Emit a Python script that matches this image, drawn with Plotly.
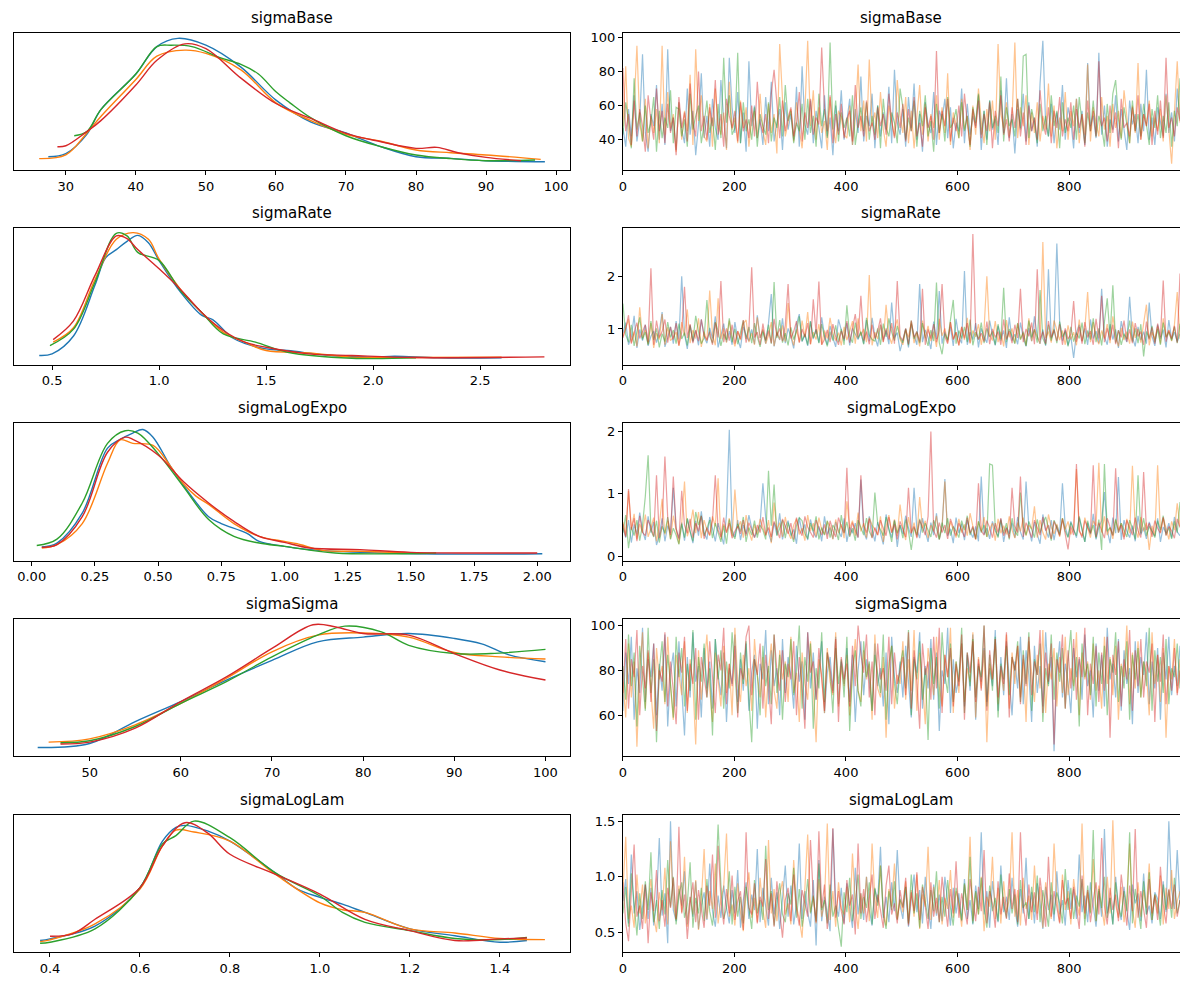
import numpy as np
import plotly.graph_objects as go

# Parámetros (orden de filas) y colores de cadena
params = ['sigmaBase', 'sigmaRate', 'sigmaLogExpo', 'sigmaSigma', 'sigmaLogLam']
chain_colors = ['#1f77b4', '#ff7f0e', '#2ca02c', '#d62728']

# --- KDE por cadena (x, altura relativa en el panel) ---
base_kde_x0 = [27.5, 30, 33, 35, 40, 43, 46, 50, 55, 60, 65, 70, 75, 80, 85, 90, 98.4]
base_kde_y0 = [0.097, 0.12, 0.26, 0.44, 0.70, 0.90, 0.96, 0.91, 0.75, 0.51, 0.35, 0.27, 0.17, 0.097, 0.085, 0.068, 0.06]
base_kde_x1 = [26.2, 30, 33, 35, 40, 43, 47, 50, 55, 60, 65, 70, 75, 80, 85, 90, 97.8]
base_kde_y1 = [0.083, 0.11, 0.27, 0.39, 0.66, 0.83, 0.874, 0.85, 0.73, 0.49, 0.36, 0.26, 0.21, 0.146, 0.126, 0.11, 0.078]
base_kde_x2 = [31.2, 33, 35, 40, 43, 45, 48, 52, 55, 57.5, 60, 62, 65, 70, 75, 80, 85, 90, 97]
base_kde_y2 = [0.25, 0.28, 0.44, 0.70, 0.90, 0.91, 0.90, 0.82, 0.77, 0.70, 0.57, 0.49, 0.38, 0.25, 0.17, 0.11, 0.083, 0.068, 0.073]
base_kde_x3 = [28.8, 30, 33, 35, 40, 43, 47, 50, 55, 60, 65, 70, 75, 80, 83, 86, 90, 95]
base_kde_y3 = [0.17, 0.177, 0.28, 0.36, 0.62, 0.80, 0.92, 0.885, 0.67, 0.485, 0.376, 0.267, 0.206, 0.158, 0.165, 0.126, 0.092, 0.068]

rate_kde_x0 = [0.44, 0.5, 0.6, 0.7, 0.75, 0.8, 0.85, 0.9, 0.95, 1.0, 1.1, 1.2, 1.25, 1.35, 1.5, 1.6, 1.8, 2.0, 2.1, 2.3, 2.6]
rate_kde_y0 = [0.068, 0.08, 0.21, 0.58, 0.78, 0.84, 0.90, 0.944, 0.89, 0.76, 0.53, 0.36, 0.33, 0.19, 0.116, 0.104, 0.068, 0.056, 0.063, 0.051, 0.051]
rate_kde_x1 = [0.505, 0.6, 0.7, 0.8, 0.88, 0.95, 1.0, 1.1, 1.2, 1.3, 1.4, 1.5, 1.7, 1.9, 2.2, 2.6]
rate_kde_y1 = [0.165, 0.27, 0.62, 0.915, 0.964, 0.915, 0.77, 0.55, 0.38, 0.237, 0.165, 0.104, 0.087, 0.056, 0.053, 0.056]
rate_kde_x2 = [0.49, 0.6, 0.7, 0.8, 0.85, 0.9, 1.0, 1.1, 1.2, 1.3, 1.45, 1.6, 1.9, 2.2]
rate_kde_y2 = [0.14, 0.26, 0.60, 0.959, 0.94, 0.82, 0.76, 0.54, 0.38, 0.225, 0.165, 0.092, 0.048, 0.051]
rate_kde_x3 = [0.505, 0.6, 0.7, 0.8, 0.85, 0.9, 1.0, 1.1, 1.2, 1.3, 1.4, 1.5, 1.7, 1.9, 2.2, 2.8]
rate_kde_y3 = [0.184, 0.32, 0.65, 0.94, 0.92, 0.84, 0.70, 0.55, 0.38, 0.25, 0.165, 0.128, 0.08, 0.068, 0.053, 0.058]

expo_kde_x0 = [0.04, 0.1, 0.2, 0.3, 0.35, 0.4, 0.44, 0.48, 0.55, 0.6, 0.7, 0.75, 0.85, 0.9, 1.0, 1.1, 1.3, 1.6, 2.02]
expo_kde_y0 = [0.10, 0.128, 0.346, 0.82, 0.884, 0.93, 0.956, 0.90, 0.685, 0.55, 0.32, 0.27, 0.20, 0.14, 0.104, 0.08, 0.06, 0.048, 0.05]
expo_kde_x1 = [0.04, 0.1, 0.2, 0.3, 0.35, 0.4, 0.48, 0.55, 0.6, 0.65, 0.7, 0.8, 0.9, 1.0, 1.05, 1.15, 1.3, 1.5]
expo_kde_y1 = [0.092, 0.116, 0.27, 0.71, 0.88, 0.855, 0.84, 0.685, 0.56, 0.47, 0.41, 0.27, 0.177, 0.14, 0.123, 0.075, 0.068, 0.056]
expo_kde_x2 = [0.02, 0.1, 0.2, 0.3, 0.37, 0.42, 0.5, 0.6, 0.7, 0.8, 0.9, 1.0, 1.2, 1.6]
expo_kde_y2 = [0.11, 0.157, 0.42, 0.855, 0.947, 0.93, 0.78, 0.54, 0.30, 0.177, 0.128, 0.104, 0.056, 0.056]
expo_kde_x3 = [0.04, 0.1, 0.2, 0.3, 0.37, 0.4, 0.5, 0.6, 0.7, 0.8, 0.9, 1.0, 1.1, 1.3, 1.5, 2.0]
expo_kde_y3 = [0.097, 0.116, 0.32, 0.79, 0.90, 0.884, 0.77, 0.576, 0.42, 0.286, 0.177, 0.133, 0.092, 0.08, 0.06, 0.056]

sig_kde_x0 = [44.3, 50, 55, 60, 65, 70, 75, 80, 85, 90, 93, 96, 100]
sig_kde_y0 = [0.065, 0.094, 0.254, 0.40, 0.557, 0.70, 0.835, 0.87, 0.896, 0.86, 0.82, 0.74, 0.69]
sig_kde_x1 = [45.5, 50, 55, 60, 65, 70, 75, 80, 85, 90, 95, 100]
sig_kde_y1 = [0.104, 0.128, 0.23, 0.387, 0.57, 0.763, 0.884, 0.90, 0.87, 0.758, 0.726, 0.71]
sig_kde_x2 = [46.8, 50, 55, 60, 65, 70, 75, 78, 82, 85, 90, 94, 100]
sig_kde_y2 = [0.10, 0.114, 0.218, 0.387, 0.545, 0.726, 0.884, 0.95, 0.908, 0.81, 0.75, 0.75, 0.78]
sig_kde_x3 = [46.8, 50, 55, 60, 65, 70, 74.5, 77, 80, 85, 90, 95, 100]
sig_kde_y3 = [0.09, 0.104, 0.206, 0.40, 0.58, 0.787, 0.96, 0.944, 0.896, 0.884, 0.75, 0.63, 0.557]

lam_kde_x0 = [0.378, 0.4, 0.5, 0.6, 0.65, 0.68, 0.7, 0.75, 0.8, 0.9, 0.95, 1.0, 1.05, 1.1, 1.2, 1.3, 1.4, 1.46]
lam_kde_y0 = [0.085, 0.097, 0.19, 0.47, 0.81, 0.91, 0.925, 0.884, 0.81, 0.58, 0.46, 0.40, 0.35, 0.29, 0.17, 0.12, 0.073, 0.085]
lam_kde_x1 = [0.378, 0.4, 0.5, 0.6, 0.65, 0.68, 0.72, 0.8, 0.9, 1.0, 1.05, 1.1, 1.2, 1.3, 1.4, 1.5]
lam_kde_y1 = [0.077, 0.09, 0.206, 0.46, 0.775, 0.89, 0.876, 0.81, 0.57, 0.36, 0.31, 0.29, 0.17, 0.14, 0.10, 0.092]
lam_kde_x2 = [0.378, 0.4, 0.5, 0.6, 0.65, 0.68, 0.72, 0.8, 0.9, 1.0, 1.05, 1.1, 1.2, 1.3, 1.4, 1.46]
lam_kde_y2 = [0.065, 0.073, 0.17, 0.47, 0.79, 0.85, 0.956, 0.835, 0.58, 0.41, 0.29, 0.218, 0.157, 0.10, 0.092, 0.107]
lam_kde_x3 = [0.4, 0.45, 0.5, 0.6, 0.65, 0.7, 0.75, 0.8, 0.9, 1.0, 1.1, 1.2, 1.3, 1.4, 1.46]
lam_kde_y3 = [0.116, 0.133, 0.24, 0.47, 0.775, 0.944, 0.87, 0.714, 0.57, 0.424, 0.24, 0.157, 0.085, 0.097, 0.104]

# --- Trazas: 200 valores leídos por cadena (uno cada ~5 iteraciones) ---
base_c0 = [47,36,58,42,66,39,51,90,44,33,55,48,72,40,61,37,93,45,53,34,
           62,46,38,70,43,57,31,49,79,41,54,36,64,47,40,75,52,35,88,59,
           44,68,38,56,33,86,48,60,41,52,37,65,45,74,39,50,58,34,62,46,
           55,40,71,36,83,49,43,63,38,57,47,35,66,42,53,31,60,45,69,40,
           51,64,37,58,44,77,39,54,48,67,35,60,42,56,46,71,38,81,50,43,
           58,36,65,47,73,40,55,33,62,49,44,68,37,57,52,64,41,59,35,50,
           45,70,38,61,43,54,48,66,34,57,40,63,46,52,37,69,44,76,41,55,
           32,58,47,67,39,62,45,53,36,73,98,49,42,61,38,56,46,72,40,59,
           51,35,64,44,57,37,85,48,54,41,91,43,60,36,52,46,66,39,58,47,
           34,63,49,55,38,61,45,81,40,53,37,59,50,42,67,44,56,39,70,52]
base_c1 = [48,83,41,36,60,95,50,39,64,35,54,44,58,38,95,43,68,47,55,33,
           62,40,57,45,78,37,93,51,66,42,39,61,36,70,49,43,56,34,74,46,
           53,38,63,47,59,36,52,57,41,67,45,37,61,44,55,32,96,64,42,50,
           58,39,62,46,35,56,98,48,69,40,59,44,51,34,65,47,38,57,53,43,
           41,60,37,52,84,45,63,39,87,48,56,41,68,46,36,60,50,42,75,54,
           44,65,38,57,35,53,72,43,61,39,55,47,66,40,59,44,79,37,56,49,
           41,64,46,54,34,60,43,70,51,38,58,45,63,40,96,55,47,62,42,52,
           97,41,59,48,66,37,56,44,62,39,54,46,73,42,60,35,53,45,68,40,
           57,48,64,38,55,43,84,39,59,50,42,65,46,54,36,61,47,57,41,69,
           52,38,60,44,85,40,55,48,63,42,53,45,58,39,66,47,26,56,86,50]
base_c2 = [43,62,51,35,76,46,56,39,60,44,50,65,33,57,41,53,47,69,38,59,
           58,42,52,36,67,46,54,60,38,49,63,44,53,34,61,41,88,50,66,43,
           47,91,38,62,45,52,40,59,36,55,48,43,62,39,53,47,65,42,72,51,
           57,38,50,45,61,40,64,44,54,36,67,48,58,41,97,46,63,39,56,47,
           53,42,66,37,50,59,45,62,40,54,43,60,35,64,47,42,56,50,38,70,
           59,40,53,45,63,36,57,48,66,42,51,33,61,44,55,39,65,47,50,58,
           41,62,45,54,36,59,50,67,43,57,37,63,47,54,44,77,39,59,48,52,
           42,64,46,89,90,41,58,50,38,61,45,54,42,66,48,57,35,62,44,53,
           47,60,40,65,50,38,56,45,63,42,54,48,36,61,44,67,75,52,40,59,
           49,38,63,45,55,42,61,50,37,58,47,66,41,54,44,62,36,57,48,76]
base_c3 = [82,45,55,37,63,42,58,48,33,66,51,40,70,45,57,38,61,44,53,31,
           65,47,56,39,73,50,42,80,45,54,40,59,48,75,43,55,36,64,54,47,
           57,39,62,45,52,41,60,42,74,50,44,55,38,67,81,58,41,63,45,53,
           59,42,50,68,39,56,47,64,43,53,49,94,58,45,66,38,55,43,61,41,
           52,57,39,72,47,54,42,63,45,50,40,59,48,55,43,67,51,41,56,47,
           61,39,58,45,65,42,50,36,59,47,54,40,92,44,57,48,64,39,53,45,
           60,42,67,50,37,58,47,63,41,55,45,62,35,57,48,66,43,52,39,59,
           47,64,42,56,37,60,45,53,40,69,50,43,59,38,57,47,65,42,52,45,
           62,40,58,47,55,36,63,45,57,42,86,48,53,39,60,44,56,35,64,47,
           50,42,59,45,66,40,55,48,61,37,57,43,63,41,88,47,53,42,59,51]

# sigmaRate, sigmaLogExpo y sigmaLogLam en centésimas
rate_c0 = [92,112,70,85,125,64,99,78,108,68,86,96,74,95,132,66,84,104,72,115,
           80,200,90,62,107,76,97,69,118,85,73,102,82,124,65,91,110,75,96,70,
           113,81,64,104,88,77,99,71,126,83,98,72,111,166,67,93,79,120,73,101,
           85,63,109,128,76,89,68,115,81,99,74,122,88,70,106,83,66,118,95,78,
           111,69,101,90,80,94,72,117,77,121,86,67,108,79,97,71,150,84,93,58,
           78,100,65,109,87,70,185,75,98,84,62,114,81,172,72,95,78,104,68,119,
           84,73,210,70,94,80,111,65,101,85,74,116,89,69,106,81,97,64,122,78,
           90,71,112,83,67,102,77,124,86,72,99,68,213,82,94,262,113,78,98,69,
           86,45,93,108,77,101,70,118,82,96,73,176,85,70,109,80,99,64,115,88,
           75,161,84,67,104,79,95,72,150,86,68,108,81,99,65,117,80,94,76,91]
rate_c1 = [86,101,118,74,95,67,141,83,99,71,111,64,92,80,128,70,103,78,84,94,
           68,113,87,137,73,98,82,120,66,95,77,173,89,69,158,81,101,74,116,85,
           67,96,79,110,117,75,92,70,122,83,100,72,88,113,68,95,80,107,76,149,
           89,69,99,75,116,85,132,71,94,80,109,70,97,82,121,90,78,93,69,104,
           79,95,115,72,120,87,100,75,202,69,94,81,108,76,146,88,72,99,118,80,
           70,98,84,112,73,92,67,116,82,106,77,95,66,119,87,101,74,113,80,94,
           69,104,79,121,72,97,85,109,70,99,200,88,78,115,75,95,67,117,84,101,
           73,110,80,92,69,120,77,99,86,72,265,83,95,74,116,98,79,97,70,107,
           80,94,69,118,77,101,170,75,113,85,71,97,82,109,73,124,88,67,102,79,
           95,72,114,83,100,74,111,146,69,94,80,105,72,120,85,98,77,108,170,81]
rate_c2 = [148,89,75,108,68,96,122,80,94,70,115,79,101,65,91,76,113,84,98,72,
           110,81,93,69,107,77,125,95,72,83,155,87,73,113,97,68,91,79,120,75,
           100,71,94,116,81,104,73,111,85,66,95,78,108,72,189,83,117,74,92,69,
           103,80,95,124,77,91,70,114,83,99,73,109,85,67,95,78,107,75,100,70,
           145,86,74,112,82,95,71,121,89,80,77,101,70,110,85,120,94,78,106,83,
           74,100,69,116,81,95,73,111,86,68,98,77,188,74,52,91,79,114,155,72,
           97,82,104,75,118,69,94,80,112,73,101,85,95,70,109,78,178,75,100,86,
           72,111,80,95,68,116,84,99,74,174,82,70,108,78,100,73,114,85,95,67,
           104,76,93,82,112,71,97,80,120,75,101,69,110,158,84,183,74,98,70,91,
           81,116,76,101,73,109,48,95,82,106,75,100,70,112,84,94,78,104,73,110]
rate_c3 = [83,101,126,72,93,112,82,97,108,75,215,70,116,84,95,118,74,104,80,111,
           69,94,180,83,109,73,98,77,118,88,79,95,70,112,84,191,75,101,78,108,
           72,96,81,117,74,100,217,84,94,70,110,79,97,73,119,86,101,77,107,185,
           82,95,115,74,100,84,111,71,156,90,190,70,80,98,75,109,85,70,96,81,
           115,74,100,128,84,163,78,95,71,108,82,96,120,75,101,80,111,72,191,86,
           78,101,71,116,84,95,76,176,70,99,82,109,75,97,185,86,72,113,80,94,
           69,104,82,111,74,280,98,80,92,76,114,71,100,84,95,70,118,80,96,73,
           108,83,176,75,100,86,112,71,213,79,95,72,115,84,98,77,109,70,101,81,
           90,153,76,104,72,113,84,96,70,119,82,163,75,101,79,108,71,97,84,116,
           76,99,73,111,86,95,70,114,80,103,72,110,84,192,76,97,82,106,74,205]

expo_c0 = [45,30,58,22,51,35,70,42,26,64,38,55,18,33,61,24,49,37,110,44,
           29,54,25,60,40,21,57,33,72,38,27,63,44,24,53,36,19,67,203,42,
           31,58,26,50,36,66,45,30,40,52,117,61,37,23,54,34,69,27,47,57,
           33,43,20,62,37,51,26,59,39,30,48,24,64,35,46,28,55,41,31,61,
           23,47,37,53,30,123,40,27,64,45,24,55,35,19,67,44,30,58,15,50,
           36,65,46,31,110,43,29,61,40,23,54,34,69,27,46,124,33,44,21,62,
           37,52,26,58,40,30,48,24,128,35,45,28,56,41,32,60,23,47,36,54,
           30,63,39,27,120,46,24,55,35,20,67,43,30,58,26,50,37,117,47,31,
           56,43,30,62,41,23,54,35,68,27,46,57,103,42,21,62,37,127,26,58,
           40,30,49,24,65,35,46,28,55,41,32,61,23,47,37,53,30,63,39,33]
expo_c1 = [55,33,105,44,68,27,52,38,67,31,45,62,24,50,92,35,57,28,65,41,
           20,53,120,32,47,75,37,71,29,58,42,33,64,48,125,27,52,38,61,32,
           107,45,56,30,66,40,25,51,35,60,46,33,58,21,86,42,54,31,63,39,
           28,50,60,35,45,25,66,41,53,32,62,43,35,56,48,27,59,37,51,29,
           88,45,57,33,70,40,53,30,62,50,43,34,64,23,48,66,38,59,33,83,
           46,26,63,37,54,31,95,45,57,29,50,40,65,27,48,120,35,56,42,30,
           60,38,51,33,69,46,27,56,40,63,31,44,53,25,60,37,49,35,64,42,
           29,54,40,62,33,50,44,80,30,58,38,27,67,46,36,52,31,61,43,56,
           35,48,140,40,33,62,44,30,57,49,150,38,64,34,46,28,58,42,53,31,
           60,37,145,45,30,63,40,54,10,49,33,146,38,61,46,27,56,42,85,48]
expo_c2 = [38,66,13,47,33,58,25,50,96,162,42,31,57,22,48,37,63,27,45,34,
           19,52,30,61,40,24,71,50,65,33,45,58,29,53,38,23,49,20,59,37,
           28,52,40,63,23,46,34,57,30,50,42,27,137,49,115,33,45,58,29,54,
           38,23,49,62,57,36,28,53,40,64,27,46,34,57,30,50,42,26,66,38,
           55,31,45,25,58,47,34,61,40,30,102,52,42,33,63,45,23,57,37,50,
           29,59,40,10,46,34,60,38,53,42,31,58,45,27,54,37,61,33,48,40,
           30,57,42,65,34,46,28,56,38,50,31,148,146,45,30,58,37,53,27,61,
           40,33,102,47,34,56,42,30,59,38,53,63,45,25,58,47,34,61,40,30,
           54,42,33,64,45,23,57,37,50,29,59,10,148,40,46,34,60,38,53,42,
           31,58,45,27,130,37,61,33,48,40,30,57,42,65,34,46,28,56,38,87]
expo_c3 = [52,31,108,42,61,24,65,38,33,58,47,32,130,29,50,160,62,34,128,45,
           27,105,50,37,60,30,53,40,65,28,46,34,57,130,42,31,62,38,53,29,
           40,48,36,58,33,54,42,30,50,38,63,34,46,31,56,41,29,60,48,36,
           53,27,62,42,33,64,47,38,30,58,45,34,51,28,57,41,31,62,48,37,
           142,33,54,42,30,130,50,38,60,29,46,34,58,45,33,63,38,51,27,56,
           42,31,110,37,48,29,58,45,34,64,200,41,30,54,38,50,28,60,46,33,
           53,42,31,62,37,48,27,117,41,34,57,46,30,53,38,61,33,45,29,110,
           48,38,128,31,54,42,30,58,46,34,63,41,50,28,56,45,33,60,38,11,
           48,34,148,42,30,57,46,37,146,31,54,41,29,61,45,33,141,38,50,27,
           58,46,34,62,41,30,135,42,53,31,57,45,37,63,33,48,41,29,60,46]

sig_c0 = [62,88,74,95,58,81,70,99,66,85,77,92,60,83,71,96,55,79,88,64,
          93,73,51,86,68,97,75,82,59,90,72,84,63,94,78,69,88,57,81,74,
          96,66,85,71,92,62,79,87,54,83,76,98,65,89,73,81,60,94,70,86,
          78,63,91,75,84,58,97,72,88,67,82,93,61,79,86,71,95,65,84,74,
          90,66,87,57,80,93,69,85,76,62,92,73,81,64,88,56,95,77,70,84,
          68,91,75,59,86,79,97,63,82,72,94,67,88,53,80,74,99,61,85,70,
          77,92,64,87,71,96,58,83,75,90,66,81,73,98,62,86,69,93,76,60,
          84,72,95,65,89,78,57,91,70,82,64,97,74,86,44,79,93,68,83,75,
          61,90,77,85,67,96,73,80,59,92,71,87,64,99,76,83,68,94,62,89,
          74,81,56,93,70,86,78,97,65,84,72,90,58,88,76,95,69,82,73,91]
sig_c1 = [75,59,92,68,84,46,79,97,63,88,71,54,90,76,82,65,95,73,58,87,
          78,69,93,61,85,74,47,89,67,80,96,72,57,88,77,64,91,70,83,60,
          99,75,66,87,73,81,62,94,78,68,86,59,80,92,71,63,89,76,84,66,
          95,70,79,57,88,74,67,93,72,48,85,78,61,90,75,69,97,64,82,73,
          87,60,79,94,71,66,89,76,83,58,96,72,68,86,50,80,91,63,78,74,
          93,67,85,71,98,62,88,75,56,90,80,69,95,73,64,87,77,99,61,84,
          70,92,66,81,75,97,59,86,72,89,48,83,76,94,65,80,71,96,63,88,
          74,91,68,85,57,93,79,66,87,72,98,61,83,76,90,64,86,70,95,69,
          81,73,97,60,88,76,84,67,92,71,80,63,95,74,86,69,91,58,83,77,
          100,65,88,72,93,68,84,79,60,97,74,87,66,90,50,82,76,94,70,85]
sig_c2 = [82,67,96,73,88,55,91,78,62,99,70,85,48,80,93,66,87,74,59,95,
          77,90,64,83,71,98,58,86,75,92,68,81,51,94,76,89,63,84,72,97,
          79,61,88,74,93,67,48,85,78,60,91,73,82,65,96,70,87,58,83,77,
          94,69,80,100,63,86,75,92,54,81,72,97,66,88,79,61,90,74,85,68,
          95,53,80,89,71,64,93,77,84,62,87,79,70,96,58,83,91,74,65,82,
          89,72,98,60,85,76,93,67,81,49,90,74,86,63,97,78,70,92,66,84,
          75,99,61,88,73,94,68,82,77,100,64,87,71,95,59,83,76,91,69,86,
          80,93,66,89,74,97,62,85,78,92,57,81,73,96,67,88,75,90,63,84,
          98,71,86,55,92,77,83,69,95,64,88,74,91,60,85,79,97,66,82,72,
          93,58,87,76,90,68,84,73,99,62,89,75,86,70,94,65,81,77,92,72]
sig_c3 = [70,94,63,85,77,98,60,82,72,89,66,92,53,80,75,97,64,84,71,56,
          88,79,95,62,83,74,90,58,86,77,68,93,75,61,87,80,99,65,83,73,
          91,59,81,76,95,100,69,85,78,92,63,87,74,56,96,80,71,89,66,83,
          76,93,60,86,73,54,97,79,84,67,90,75,62,88,81,70,94,57,86,76,
          83,64,91,73,100,87,79,96,68,84,60,92,76,81,71,95,65,88,74,80,
          86,69,97,63,89,75,54,92,78,84,67,95,72,99,61,87,77,90,64,83,
          73,96,58,88,79,93,66,85,71,100,62,89,76,94,68,82,74,97,59,86,
          80,91,65,87,73,95,69,84,78,98,61,88,75,92,47,85,79,96,63,89,
          72,94,67,86,77,99,60,83,74,91,66,88,71,95,50,87,78,93,64,85,
          76,98,62,89,73,94,68,84,79,92,57,87,75,96,65,82,71,90,69,80]

lam_c0 = [78,98,58,120,67,87,52,73,93,62,90,56,77,135,65,85,40,150,70,60,
          89,74,105,57,82,64,96,53,74,86,61,112,69,55,83,63,92,72,58,88,
          67,106,54,79,95,62,84,70,125,59,90,73,56,99,66,86,53,80,110,64,
          92,57,75,130,62,87,68,55,97,38,115,60,82,67,51,143,76,64,90,58,
          94,72,54,108,66,85,61,100,70,56,89,77,127,63,82,59,95,69,124,74,
          62,91,55,80,102,68,88,58,100,72,53,93,65,84,60,100,75,56,90,67,
          85,60,98,62,79,57,92,71,140,66,87,54,96,74,59,110,68,82,61,99,
          72,55,89,67,117,62,86,58,94,77,53,91,70,84,60,105,66,79,56,97,
          71,89,62,120,68,83,59,95,74,55,87,64,143,67,81,57,100,72,61,91,
          70,52,93,76,85,60,103,66,74,58,86,80,62,96,68,150,88,71,124,76]
lam_c1 = [88,136,62,74,54,102,67,93,58,81,98,64,50,86,70,108,57,132,76,61,
          92,68,118,55,82,66,97,52,78,125,62,87,71,112,58,79,91,139,64,75,
          56,94,68,51,86,104,63,81,59,99,70,54,133,67,89,60,84,96,66,76,
          57,115,73,62,45,90,138,68,82,58,98,64,78,148,61,87,55,95,71,66,
          91,59,121,75,53,85,67,100,60,130,80,63,110,70,56,89,73,112,62,79,
          68,96,58,88,64,102,53,84,73,127,61,91,67,97,57,81,71,106,63,87,
          76,55,93,70,136,60,86,66,100,51,82,73,118,62,90,58,96,68,79,140,
          64,88,56,99,71,83,61,110,67,91,54,95,74,62,130,80,59,102,70,87,
          57,98,77,65,148,62,86,68,116,60,92,73,56,100,67,151,75,63,91,59,
          80,130,70,54,95,64,88,72,112,61,84,67,101,57,90,71,106,62,78,87]
lam_c2 = [67,91,55,103,76,47,85,62,96,70,122,59,79,53,88,66,115,73,100,57,
          83,95,63,75,113,54,81,67,90,60,98,69,56,86,147,93,62,72,105,57,
          91,64,82,58,91,73,53,97,67,79,61,128,70,87,56,77,94,66,59,85,
          75,108,63,89,55,72,98,67,83,60,112,70,79,58,93,64,74,54,37,86,
          68,99,60,77,102,62,82,72,95,57,90,74,110,66,53,87,70,96,61,80,
          73,91,58,102,67,85,54,93,76,62,88,69,105,59,82,64,97,72,56,90,
          77,61,94,70,118,58,87,66,99,73,54,92,69,81,60,102,74,63,89,67,
          84,57,97,72,77,62,91,68,101,59,88,73,55,95,66,86,76,58,107,70,
          90,62,83,73,98,56,92,67,142,60,89,72,100,63,81,57,95,74,64,87,
          69,140,58,89,73,53,96,66,104,61,84,74,56,93,70,88,63,99,67,79]
lam_c3 = [95,58,42,83,129,64,74,53,93,40,86,69,106,60,79,55,90,72,99,62,
          145,67,84,44,76,95,59,88,70,54,92,74,120,63,128,80,57,89,67,101,
          61,78,87,52,140,72,66,94,58,82,73,116,62,85,55,96,69,45,79,90,
          60,102,71,56,88,76,64,133,82,59,141,72,93,53,80,144,63,87,69,57,
          97,74,84,48,130,67,89,59,78,102,62,84,70,54,92,110,66,76,58,88,
          72,99,56,86,69,104,61,91,73,53,95,64,81,59,100,75,55,89,67,114,
          63,85,72,57,98,79,60,91,69,124,58,87,76,54,96,66,82,62,103,71,
          89,59,140,74,56,93,68,86,61,99,78,55,118,64,87,71,58,97,75,81,
          62,91,72,53,101,67,88,59,79,95,66,135,74,57,90,70,84,60,102,76,
          56,92,69,143,63,87,72,54,98,67,83,61,109,75,58,89,71,93,64,79]

kde_data = [
    [(base_kde_x0, base_kde_y0), (base_kde_x1, base_kde_y1), (base_kde_x2, base_kde_y2), (base_kde_x3, base_kde_y3)],
    [(rate_kde_x0, rate_kde_y0), (rate_kde_x1, rate_kde_y1), (rate_kde_x2, rate_kde_y2), (rate_kde_x3, rate_kde_y3)],
    [(expo_kde_x0, expo_kde_y0), (expo_kde_x1, expo_kde_y1), (expo_kde_x2, expo_kde_y2), (expo_kde_x3, expo_kde_y3)],
    [(sig_kde_x0, sig_kde_y0), (sig_kde_x1, sig_kde_y1), (sig_kde_x2, sig_kde_y2), (sig_kde_x3, sig_kde_y3)],
    [(lam_kde_x0, lam_kde_y0), (lam_kde_x1, lam_kde_y1), (lam_kde_x2, lam_kde_y2), (lam_kde_x3, lam_kde_y3)],
]
trace_data = [
    [base_c0, base_c1, base_c2, base_c3],
    [rate_c0, rate_c1, rate_c2, rate_c3],
    [expo_c0, expo_c1, expo_c2, expo_c3],
    [sig_c0, sig_c1, sig_c2, sig_c3],
    [lam_c0, lam_c1, lam_c2, lam_c3],
]
trace_scale = [1, 100, 100, 1, 100]

# Ejes: rangos y ticks
kde_xrange = [[22.6, 102.0], [0.322, 2.92], [-0.07, 2.13], [41.7, 102.7], [0.32, 1.556]]
kde_ticks = [[30, 40, 50, 60, 70, 80, 90, 100], [0.5, 1.0, 1.5, 2.0, 2.5],
             [0, 0.25, 0.5, 0.75, 1.0, 1.25, 1.5, 1.75, 2.0], [50, 60, 70, 80, 90, 100],
             [0.4, 0.6, 0.8, 1.0, 1.2, 1.4]]
kde_fmt = ['', '.1f', '.2f', '', '.1f']
trace_yrange = [[22.3, 102.6], [0.32, 2.92], [-0.07, 2.13], [41.7, 102.8], [0.32, 1.556]]
trace_yticks = [[40, 60, 80, 100], [1, 2], [0, 1, 2], [60, 80, 100], [0.5, 1.0, 1.5]]
trace_fmt = ['', '', '', '', '.1f']

# Geometría en píxeles de pantalla (la página tiene 8px de margen en el body)
OFF = 8
W, H = 1188 - OFF, 989 - OFF
col_px = [(10, 568), (621, 1180)]
row_top_px = [30, 226, 423, 620, 817]
box_h = 138

font_fam = 'DejaVu Sans, sans-serif'
fig = go.Figure()
axis_style = dict(showline=True, mirror=True, linecolor='black', linewidth=1,
                  showgrid=False, zeroline=False, ticks='outside', ticklen=4,
                  tickwidth=1, tickcolor='black',
                  tickfont=dict(family=font_fam, size=13, color='black'))

annotations = []
for r, name in enumerate(params):
    y0 = 1 - (row_top_px[r] + box_h - OFF) / H
    y1 = 1 - (row_top_px[r] - OFF) / H
    for c in range(2):
        idx = 2 * r + c + 1
        xa = 'xaxis' if idx == 1 else f'xaxis{idx}'
        ya = 'yaxis' if idx == 1 else f'yaxis{idx}'
        xs = 'x' if idx == 1 else f'x{idx}'
        ys = 'y' if idx == 1 else f'y{idx}'
        dom = [(col_px[c][0] - OFF) / W, (col_px[c][1] - OFF) / W]

        if c == 0:
            for k, (kx, ky) in enumerate(kde_data[r]):
                fig.add_trace(go.Scatter(x=kx, y=ky, mode='lines', xaxis=xs, yaxis=ys,
                                         line=dict(color=chain_colors[k], width=1.4, shape='spline', smoothing=1.0),
                                         showlegend=False, hoverinfo='skip'))
            fig.update_layout({
                xa: dict(axis_style, domain=dom, anchor=ys, range=kde_xrange[r],
                         tickvals=kde_ticks[r], tickformat=kde_fmt[r]),
                ya: dict(axis_style, domain=[y0, y1], anchor=xs, range=[0, 1],
                         showticklabels=False, ticks=''),
            })
        else:
            for k, vals in enumerate(trace_data[r]):
                draws = np.linspace(0, 999, len(vals))
                yv = np.array(vals, dtype=float) / trace_scale[r]
                fig.add_trace(go.Scatter(x=draws, y=yv, mode='lines', xaxis=xs, yaxis=ys,
                                         line=dict(color=chain_colors[k], width=1.2),
                                         opacity=0.45, showlegend=False, hoverinfo='skip'))
            fig.update_layout({
                xa: dict(axis_style, domain=dom, anchor=ys, range=[0, 999],
                         tickvals=[0, 200, 400, 600, 800]),
                ya: dict(axis_style, domain=[y0, y1], anchor=xs, range=trace_yrange[r],
                         tickvals=trace_yticks[r], tickformat=trace_fmt[r]),
            })
        annotations.append(dict(text=name, xref='paper', yref='paper',
                                x=(dom[0] + dom[1]) / 2, y=y1, yshift=4,
                                xanchor='center', yanchor='bottom', showarrow=False,
                                font=dict(family=font_fam, size=15, color='black')))

fig.update_layout(
    width=W, height=H,
    margin=dict(l=0, r=0, t=0, b=0),
    plot_bgcolor='white', paper_bgcolor='white',
    annotations=annotations,
)

fig.write_html("out.html")
